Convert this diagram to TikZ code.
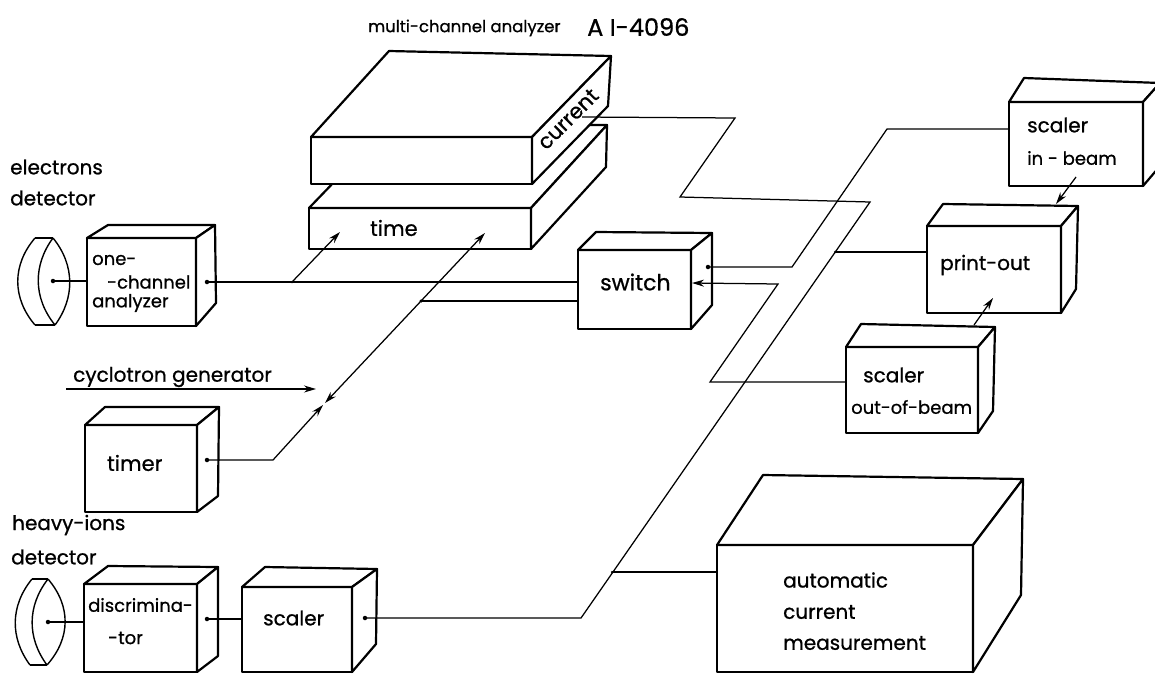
\documentclass[tikz,border=0pt]{standalone}
\usepackage{fontspec}
\setmainfont{Poppins}[FakeBold=0.8]
\usetikzlibrary{fit,arrows.meta}
\tikzset{
  boxline/.style={line width=2.2pt,line join=round,fill=white},
  frontface/.style={draw,boxline,inner sep=0pt,outer sep=0pt,rectangle},
  wire/.style={line width=1.25pt,line join=miter},
  arrowwire/.style={wire,-{Stealth[length=12pt,width=7pt]}},
  lens/.style={line width=1.4pt},
  dotmark/.style={circle,fill=black,inner sep=0pt,minimum size=4.5pt},
  lab/.style={inner sep=0pt,anchor=west,font=\fontsize{20}{24}\selectfont},
  labsmall/.style={inner sep=0pt,anchor=west,font=\fontsize{18}{20}\selectfont},
}
\newcommand{\cube}[6]{%
  \node[frontface,fit={(#2) (#3)}] (#1) {};
  \draw[boxline] (#1.north west) -- (#4) -- (#5) -- (#1.north east) -- cycle;
  \draw[boxline] (#1.north east) -- (#5) -- (#6) -- (#1.south east) -- cycle;
}
\begin{document}
\begin{tikzpicture}[x=1pt,y=-1pt]
\fill[white] (0,0) rectangle (1155,675);
\useasboundingbox (0,0) rectangle (1155,675);
\clip (0,0) rectangle (1155,675);

% boxes
\cube{onechan}{87,238}{196,326}{108,225}{215,225}{216,303}
\cube{mcalower}{309,208}{531,249}{389,125}{607,125}{606,167}
\cube{mcaupper}{311,137}{532,184}{389,51}{611,56}{608,106}
\cube{switchbox}{578,250}{691,329}{596,232}{712,233}{712,305}
\cube{timerbox}{85,425}{197,512}{105,407}{219,407}{218,496}
\cube{discbox}{84,584}{197,672}{108,566}{218,567}{218,656}
\cube{scalerbox}{242,587}{352,672}{265,567}{377,569}{376,644}
\cube{inbeam}{1009,102}{1143,186}{1024,78}{1160,83}{1160,166}
\cube{printbox}{927,226}{1061,313}{943,204}{1078,206}{1076,289}
\cube{outbeam}{846,347}{978,433}{861,324}{995,327}{993,411}
\cube{autobox}{717,545}{973,672}{763,475}{1023,479}{1021,595}

% detectors
\draw[lens] (35,238) -- (53,238) (35,325) -- (55,325);
\draw[lens] (35,238) .. controls (12,265) and (12,298) .. (35,325);
\draw[lens] (53,238) .. controls (75,265) and (75,298) .. (55,325);
\draw[lens] (53,238) .. controls (33,265) and (33,298) .. (55,325);
\draw[lens] (32,579) -- (48,579) (30,665) -- (47,665);
\draw[lens] (32,579) .. controls (10,606) and (10,638) .. (30,665);
\draw[lens] (48,579) .. controls (71,606) and (71,638) .. (47,665);
\draw[lens] (48,579) .. controls (27,606) and (27,638) .. (47,665);

% dots and junctions
\node[dotmark] (lensA) at (53,281) {};
\node[dotmark] (lensB) at (48,622) {};
\node[dotmark] (onechanout) at (207,282) {};
\node[dotmark] (timerout) at (207,460) {};
\node[dotmark] (discout) at (207,619) {};
\node[dotmark] (scalerout) at (365,618) {};
\node[dotmark,minimum size=2.5pt] (split) at (292,282) {};
\node[dotmark,minimum size=3.5pt] (gatepoint) at (421,301) {};
\node[dotmark] (switchout) at (708,267) {};
\node[dotmark,minimum size=2.5pt] (printjoin) at (835,252) {};
\node[dotmark,minimum size=2.5pt] (autojoin) at (612,572) {};

\coordinate (timerknee) at (273,460);
\coordinate (timertip) at (323,405);
\coordinate (gatedown) at (325,403);
\coordinate (timetipA) at (340,232);
\coordinate (timetipB) at (485,233);
\coordinate (curin) at (582,117);
\coordinate (curA) at (735,118);
\coordinate (curB) at (680,197);
\coordinate (curC) at (870,202);
\coordinate (scalerknee) at (581,618);
\coordinate (inA) at (887,129);
\coordinate (inB) at (792,267);
\coordinate (switchin) at (692,283);
\coordinate (outA) at (778,284);
\coordinate (outB) at (710,382);
\coordinate (cycA) at (66,389);
\coordinate (cycB) at (316,389);
\coordinate (inbeamstart) at (1076,177);
\coordinate (printtipA) at (1056,204);
\coordinate (outbeamstart) at (974,325);
\coordinate (printtipB) at (993,298);

% connectors
\draw[wire] (lensA.center) -- (onechan.west |- lensA);
\draw[wire] (lensB.center) -- (discbox.west |- lensB);
\draw[wire] (onechanout.center) -- (switchbox.west |- onechanout);
\draw[arrowwire] (split.center) -- (timetipA);
\draw[wire] (gatepoint.center) -- (switchbox.west |- gatepoint);
\draw[arrowwire] (gatepoint.center) -- (timetipB);
\draw[arrowwire] (gatepoint.center) -- (gatedown);
\draw[arrowwire] (timerout.center) -- (timerknee) -- (timertip);
\draw[arrowwire] (cycA) -- (cycB);
\draw[wire] (discout.center) -- (scalerbox.west |- discout);
\draw[wire] (scalerout.center) -- (scalerknee) -- (curC) -- (curB) -- (curA) -- (curin);
\draw[wire] (printjoin.center) -- (printbox.west |- printjoin);
\draw[wire] (autojoin.center) -- (autobox.west |- autojoin);
\draw[wire] (inbeam.west |- inA) -- (inA) -- (inB) -- (switchout.center);
\draw[arrowwire] (outbeam.west |- outB) -- (outB) -- (outA) -- (switchin);
\draw[arrowwire] (inbeamstart) -- (printtipA);
\draw[arrowwire] (outbeamstart) -- (printtipB);

% labels
\node[lab,font=\fontsize{16.5}{20}\selectfont] (titleA) at (368,28) {multi-channel analyzer};
\node[lab,font=\fontsize{24}{26}\selectfont] (titleB) at (587,27) {A I-4096};
\node[lab] (elecA) at (10,167) {electrons};
\node[lab] (elecB) at (10,198) {detector};
\node[labsmall] (oneA) at (92,260) {one-};
\node[labsmall] (oneB) at (107,282) {-channel};
\node[labsmall] (oneC) at (92,303) {analyzer};
\node[lab] (cyc) at (73,377) {cyclotron generator};
\node[lab,font=\fontsize{21}{24}\selectfont] (timerlab) at (107,463) {timer};
\node[lab] (heavyA) at (12,525) {heavy-ions};
\node[lab] (heavyB) at (11,557) {detector};
\node[labsmall] (discA) at (88,605) {discrimina-};
\node[labsmall] (discB) at (108,638) {-tor};
\node[lab] (scalerlab) at (263,618) {scaler};
\node[lab,font=\fontsize{21}{24}\selectfont] (timelab) at (370,228) {time};
\node[lab,anchor=center,rotate=45,font=\fontsize{21}{24}\selectfont] (curlab) at (568,119) {current};
\node[lab,font=\fontsize{22}{24}\selectfont] (switchlab) at (600,282) {switch};
\node[lab] (inA2) at (1027,125) {scaler};
\node[labsmall] (inB2) at (1027,158) {in - beam};
\node[lab] (printlab) at (940,265) {print-out};
\node[lab] (outA2) at (863,375) {scaler};
\node[labsmall] (outB2) at (851,407) {out-of-beam};
\node[lab] (autoA) at (783,580) {automatic};
\node[lab] (autoB) at (783,612) {current};
\node[lab] (autoC) at (783,643) {measurement};
\end{tikzpicture}
\end{document}
